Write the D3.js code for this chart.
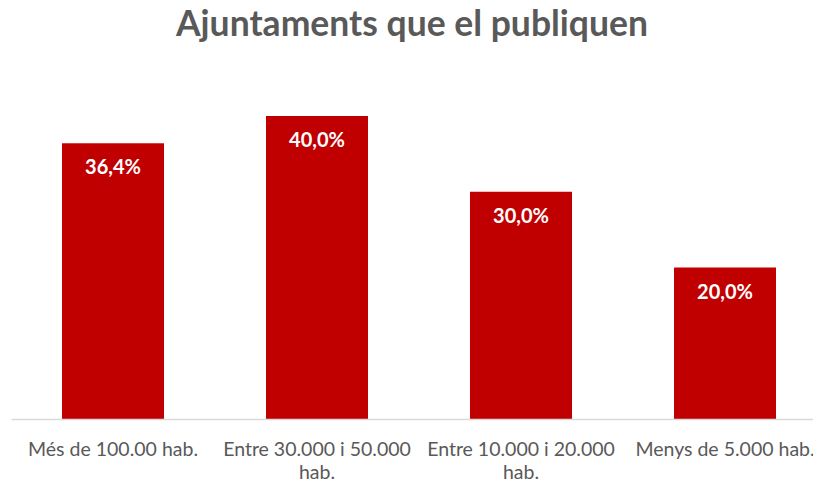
<!DOCTYPE html>
<html>
<head>
<meta charset="utf-8">
<script src="https://cdn.jsdelivr.net/npm/d3@7"></script>
<style>
  body { margin: 0; background: #fff; }
  svg { display: block; }
</style>
</head>
<body>
<svg></svg>
<script>
// chart data
const categories = ["Més de 100.00 hab.", "Entre 30.000 i 50.000 hab.", "Entre 10.000 i 20.000 hab.", "Menys de 5.000 hab."];
const values = [0.364, 0.40, 0.30, 0.20];
const valueLabels = ["36,4%", "40,0%", "30,0%", "20,0%"];
const title = "Ajuntaments que el publiquen";

const width = 813;
const height = 483;
const font = "Lato, sans-serif";

let svg = d3.select("svg")
  .attr("width", width)
  .attr("height", height);

// scales
const x = d3.scaleBand()
  .domain(categories)
  .range([11, 827])
  .paddingInner(0.5)
  .paddingOuter(0.25);

const y = d3.scaleLinear()
  .domain([0, 0.4])
  .range([419, 116]);

// title
svg.append("text")
  .attr("x", 412)
  .attr("y", 36)
  .attr("text-anchor", "middle")
  .style("font-family", font)
  .style("font-size", "35.5px")
  .style("font-weight", "bold")
  .style("fill", "#595959")
  .text(title);

// bars
svg.selectAll(".bar")
  .data(values)
  .enter().append("rect")
  .attr("class", "bar")
  .attr("x", (d, i) => x(categories[i]))
  .attr("y", d => y(d))
  .attr("width", x.bandwidth())
  .attr("height", d => y(0) - y(d))
  .style("fill", "#c00000");

// value labels inside the bars
svg.selectAll(".val")
  .data(values)
  .enter().append("text")
  .attr("class", "val")
  .attr("x", (d, i) => x(categories[i]) + x.bandwidth() / 2)
  .attr("y", d => y(d) + 31)
  .attr("text-anchor", "middle")
  .style("font-family", font)
  .style("font-size", "20px")
  .style("font-weight", "bold")
  .style("fill", "#fff")
  .text((d, i) => valueLabels[i]);

// x axis line
const xAxis = d3.axisBottom(x).tickSize(0).tickFormat("");
let axisG = svg.append("g")
  .attr("transform", `translate(0, ${y(0)})`)
  .call(xAxis);
axisG.select(".domain").attr("stroke", "#d9d9d9").attr("stroke-width", 1.5);

// category labels, wrapped to the band step
const step = x.step();
categories.forEach(function(c) {
  let cx = x(c) + x.bandwidth() / 2;
  let t = svg.append("text")
    .attr("x", cx)
    .attr("y", 456)
    .attr("text-anchor", "middle")
    .style("font-family", font)
    .style("font-size", "19.5px")
    .style("fill", "#595959");
  let words = c.split(" ");
  let line = [];
  let tspan = t.append("tspan").attr("x", cx).attr("dy", 0);
  words.forEach(function(w) {
    line.push(w);
    tspan.text(line.join(" "));
    if (tspan.node().getComputedTextLength() > step - 4 && line.length > 1) {
      line.pop();
      tspan.text(line.join(" "));
      line = [w];
      tspan = t.append("tspan")
        .attr("x", cx)
        .attr("dy", "23px")
        .text(w);
    }
  });
});
</script>
</body>
</html>
